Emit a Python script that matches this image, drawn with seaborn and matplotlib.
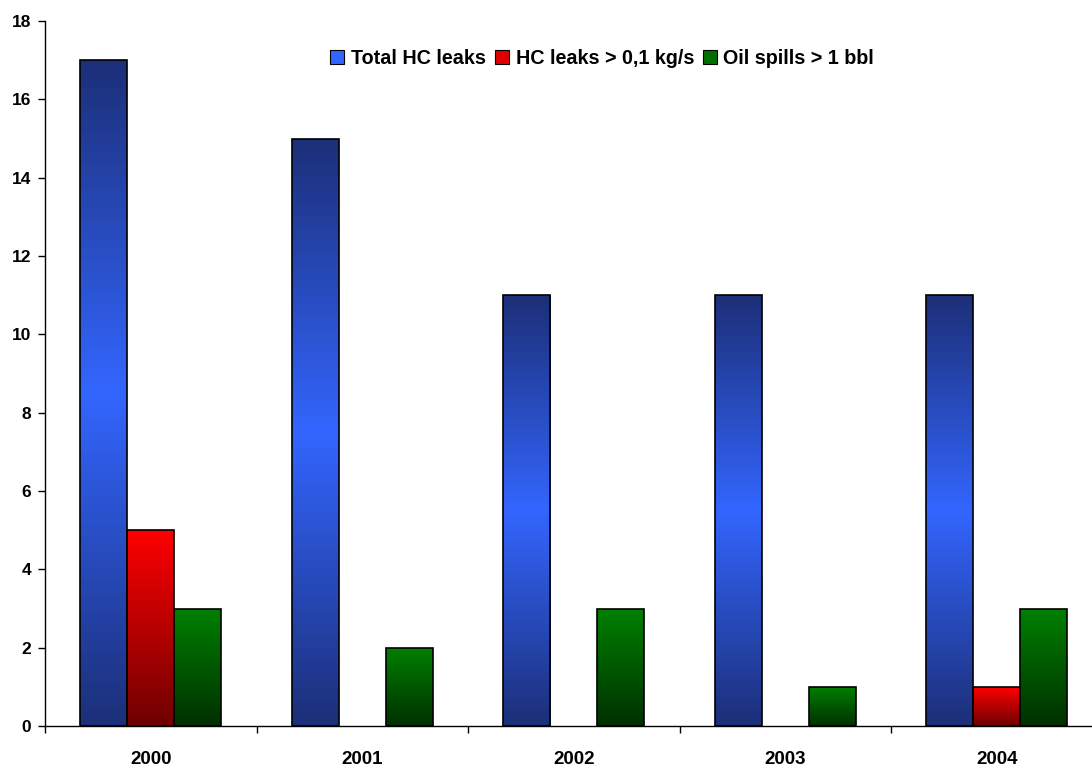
import numpy as np
import pandas as pd
import matplotlib
matplotlib.use("Agg")
import matplotlib.pyplot as plt
from matplotlib.colors import LinearSegmentedColormap
from matplotlib.patches import Patch
import seaborn as sns

years = ["2000", "2001", "2002", "2003", "2004"]
total_hc_leaks = [17, 15, 11, 11, 11]
hc_leaks_large = [5, 0, 0, 0, 1]
oil_spills = [3, 2, 3, 1, 3]
series_names = ["Total HC leaks", "HC leaks > 0,1 kg/s", "Oil spills > 1 bbl"]
y_ticks = [0, 2, 4, 6, 8, 10, 12, 14, 16, 18]

df = pd.DataFrame({
    "year": years * 3,
    "series": [series_names[0]] * 5 + [series_names[1]] * 5 + [series_names[2]] * 5,
    "value": total_hc_leaks + hc_leaks_large + oil_spills,
})

sns.set_theme(style="white")
plt.rcParams["font.family"] = ["Liberation Sans", "DejaVu Sans"]
plt.rcParams["font.weight"] = "bold"
plt.rcParams["text.color"] = "black"
plt.rcParams["xtick.color"] = "black"
plt.rcParams["ytick.color"] = "black"

# vertical gradients (top -> bottom) per series
gradients = {
    series_names[0]: LinearSegmentedColormap.from_list(
        "blue", ["#1c2f78", "#3366ff", "#1c2f78"]),
    series_names[1]: LinearSegmentedColormap.from_list(
        "red", ["#ff0000", "#6e0000"]),
    series_names[2]: LinearSegmentedColormap.from_list(
        "green", ["#008000", "#003000"]),
}
legend_colors = ["#3366ff", "#e00000", "#007000"]

fig = plt.figure(figsize=(10.92, 7.71), dpi=100)
ax = fig.add_axes([45 / 1092, 1 - 726 / 771, 1057.5 / 1092, 705 / 771])

sns.barplot(data=df, x="year", y="value", hue="series", hue_order=series_names,
            order=years, width=2 / 3, gap=0, ax=ax, legend=False,
            palette=legend_colors, edgecolor="black", linewidth=1.2,
            errorbar=None, saturation=1)

bars = list(ax.patches)
n = len(years)
for i, bar in enumerate(bars):
    name = series_names[i // n]
    h = bar.get_height()
    if h <= 0:
        bar.set_visible(False)
        continue
    x0 = bar.get_x()
    x1 = x0 + bar.get_width()
    grad = np.linspace(0, 1, 256).reshape(-1, 1)
    # row 0 of the gradient sits at the top of the bar
    im = ax.imshow(grad, cmap=gradients[name], aspect="auto",
                   extent=[x0, x1, 0, h], origin="upper", zorder=1,
                   interpolation="bilinear")
    im.set_clip_path(bar)
    bar.set_facecolor("none")
    bar.set_zorder(2)

ax.set_xlim(-0.5, len(years) - 0.5)
ax.set_ylim(0, 18)
ax.set_yticks(y_ticks)
ax.set_xticks(range(len(years)))
ax.set_xticklabels(years)
ax.set_xticks(np.arange(-0.5, len(years), 1.0), minor=True)
ax.tick_params(axis="x", which="major", length=0, pad=18, labelsize=13.5)
ax.tick_params(axis="x", which="minor", length=5, width=1, color="black",
               direction="out", bottom=True)
ax.tick_params(axis="y", length=5, width=1, color="black", direction="out",
               left=True, pad=5, labelsize=12.5)
for lab in ax.get_xticklabels() + ax.get_yticklabels():
    lab.set_fontweight("bold")
ax.set_xlabel("")
ax.set_ylabel("")
for side in ["top", "right"]:
    ax.spines[side].set_visible(False)
for side in ["left", "bottom"]:
    ax.spines[side].set_color("black")
    ax.spines[side].set_linewidth(1)
ax.grid(False)

handles = [Patch(facecolor=c, edgecolor="black", linewidth=0.8)
           for c in legend_colors]
ax.legend(handles, series_names, ncol=3, loc="center",
          bbox_to_anchor=(0.527, 0.947), frameon=False,
          handlelength=0.7, handleheight=0.7, handletextpad=0.35,
          columnspacing=0.45, prop={"weight": "bold", "size": 14.2})

fig.savefig("out.png", dpi=100)
